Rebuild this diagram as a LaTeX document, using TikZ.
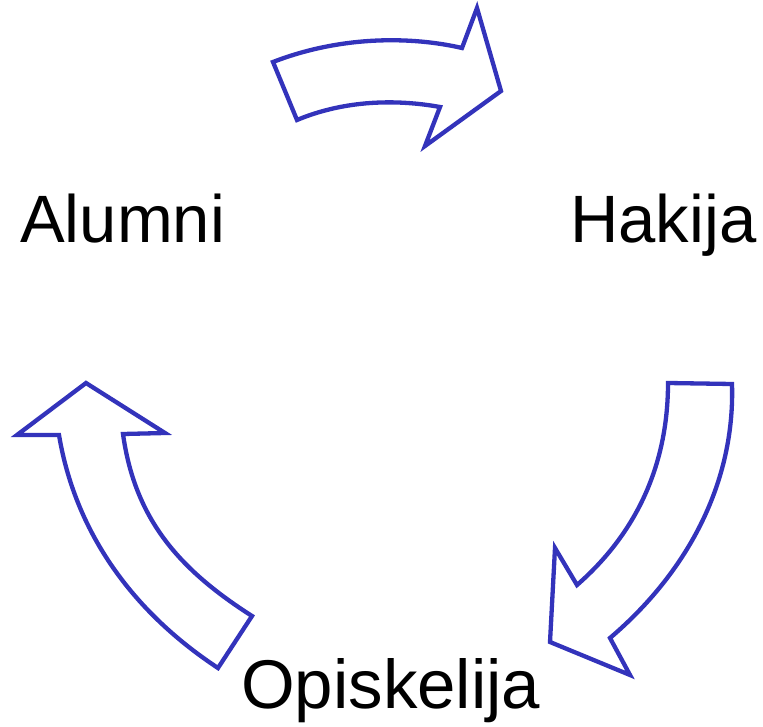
\documentclass[tikz,border=0pt]{standalone}
\usepackage{fontspec}
\setmainfont{Liberation Sans}
\definecolor{arrowblue}{RGB}{51,51,187}
\begin{document}
\begin{tikzpicture}[x=1pt,y=-1pt,
  bigarrow/.style={draw=arrowblue,line width=4.3pt,line join=miter,fill=white},
  label/.style={inner sep=0pt,anchor=base west,font=\fontsize{67}{80}\selectfont}]
\useasboundingbox (0,0) rectangle (763,727);
% top arrow (Alumni -> Hakija)
\draw[bigarrow] (273,62) .. controls (340,36) and (410,36) .. (462,48) -- (477,8) -- (501,91) -- (425,146) -- (440,107) .. controls (390,98) and (340,102) .. (297,120) -- cycle;
% right arrow (Hakija -> Opiskelija)
\draw[bigarrow] (668,383) -- (732,384) .. controls (735,480) and (690,570) .. (610,638) -- (630,675) -- (550,642) -- (555,548) -- (577,585) .. controls (640,530) and (668,460) .. (668,383) -- cycle;
% left arrow (Opiskelija -> Alumni)
\draw[bigarrow] (86,383) -- (165,433) -- (123,434) .. controls (135,520) and (180,570) .. (252,616) -- (218,668) .. controls (130,610) and (75,530) .. (59,435) -- (17,435) -- cycle;
\node[label] (alumni) at (20,243) {Alumni};
\node[label] (hakija) at (570,243) {Hakija};
\node[label,font=\fontsize{69}{80}\selectfont] (opiskelija) at (241,708) {Opiskelija};
\end{tikzpicture}
\end{document}
